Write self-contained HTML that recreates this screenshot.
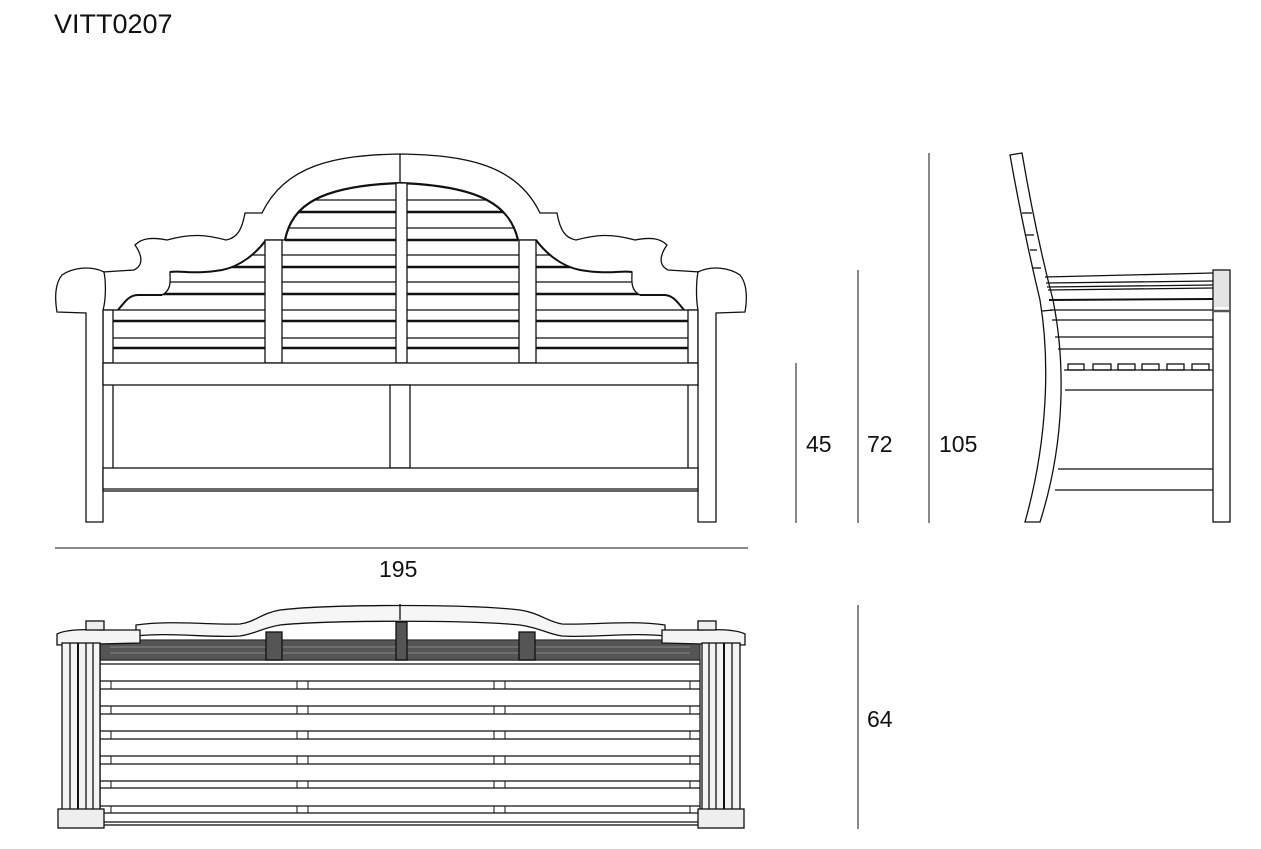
<!DOCTYPE html>
<html><head><meta charset="utf-8"><style>
html,body{margin:0;padding:0;background:#fff;}
svg{display:block;}
text{font-family:"Liberation Sans",sans-serif;fill:#111;}
</style></head><body>
<svg width="1261" height="849" viewBox="0 0 1261 849" xmlns="http://www.w3.org/2000/svg">
<text x="54" y="33" font-size="27">VITT0207</text>

<g fill="none" stroke="#111" stroke-width="1.3">
<g id="slats">
<line x1="113" y1="310" x2="688" y2="310"/>
<line x1="113" y1="321" x2="688" y2="321" stroke-width="2.4"/>
<line x1="113" y1="338" x2="688" y2="338"/>
<line x1="113" y1="348" x2="688" y2="348" stroke-width="2.4"/>
<line x1="120" y1="282" x2="680" y2="282"/>
<line x1="120" y1="294" x2="680" y2="294" stroke-width="2.4"/>
<line x1="145" y1="255" x2="656" y2="255"/>
<line x1="145" y1="267" x2="656" y2="267" stroke-width="2.4"/>
<line x1="285" y1="228" x2="518" y2="228"/>
<line x1="285" y1="240" x2="518" y2="240" stroke-width="2.4"/>
<line x1="293" y1="200" x2="510" y2="200"/>
<line x1="290" y1="212" x2="512" y2="212" stroke-width="2.4"/>
</g>
<path d="M262,213 C285,165 335,155 400,154 C467,155 517,165 540,213 L557,213 C560,230 565,238 576,240 C595,235 610,233 635,240 C650,237 660,238 667,245 C660,255 658,265 668,270 L700,272 L700,310 L684,310 C676,300 672,295 664,295 L640,295 C630,290 632,280 632,272 C620,270 610,275 580,270 C560,266 545,252 536,240 L518,240 C510,205 480,186 400,183 C320,186 292,205 285,240 L266,240 C257,252 242,266 222,270 C192,275 182,270 170,272 C170,280 172,290 162,295 L138,295 C130,295 126,300 118,310 L103,310 L103,272 L134,270 C144,265 142,255 135,245 C142,238 152,237 167,240 C192,233 207,235 226,240 C237,238 242,230 245,213 Z" fill="#fff"/>
<path d="M285,240 C292,205 320,186 400,183 C480,186 510,205 518,240" stroke-width="2.2"/>
<path d="M266,240 C257,252 242,266 222,270 C192,275 182,270 170,272 M162,295 L138,295 C130,295 126,300 118,310" stroke-width="2"/>
<path d="M536,240 C545,252 560,266 580,270 C610,275 620,270 632,272 M640,295 L664,295 C672,295 676,300 684,310" stroke-width="2"/>
<line x1="400" y1="154" x2="400" y2="183"/>
<rect x="265" y="240" width="17" height="123" fill="#fff"/>
<rect x="396" y="183" width="11" height="180" fill="#fff"/>
<rect x="519" y="240" width="17" height="123" fill="#fff"/>
<rect x="103" y="310" width="10" height="53" fill="#fff"/>
<rect x="688" y="310" width="10" height="53" fill="#fff"/>
<path d="M104,272 C90,265 72,268 62,275 C54,285 55,300 57,312 L86,313 L86,522 L103,522 L103,310 C106,300 106,282 104,272 Z" fill="#fff"/>
<path d="M698,272 C712,265 730,268 740,275 C748,285 747,300 745,312 L716,313 L716,522 L698,522 L698,310 C696,300 696,282 698,272 Z" fill="#fff"/>
<rect x="103" y="363" width="595" height="22" fill="#fff"/>
<line x1="113" y1="385" x2="113" y2="468"/>
<line x1="688" y1="385" x2="688" y2="468"/>
<rect x="390" y="385" width="20" height="83" fill="#fff"/>
<rect x="103" y="468" width="595" height="23" fill="#fff"/>
<line x1="103" y1="489" x2="698" y2="489"/>

<path d="M1010,155 L1022,153 C1030,200 1040,250 1053,300 C1065,360 1066,440 1040,522 L1025,522 C1048,440 1050,360 1040,300 C1028,250 1018,200 1010,155 Z" fill="#fff"/>
<line x1="1022" y1="213" x2="1032" y2="213"/>
<line x1="1025" y1="235" x2="1034" y2="235"/>
<line x1="1030" y1="250" x2="1037" y2="250"/>
<line x1="1033" y1="268" x2="1041" y2="268"/>
<line x1="1042" y1="311" x2="1053" y2="310"/>
<rect x="1213" y="270" width="17" height="252" fill="#fff"/>
<rect x="1214" y="271" width="15" height="36" fill="#e4e4e4" stroke="none"/>
<line x1="1213" y1="311" x2="1230" y2="311" stroke-width="2.5" stroke="#555"/>
<line x1="1045" y1="277" x2="1213" y2="273"/>
<line x1="1046" y1="283" x2="1213" y2="281"/>
<line x1="1047" y1="287" x2="1213" y2="285"/>
<line x1="1048" y1="290" x2="1213" y2="288"/>
<line x1="1049" y1="300" x2="1213" y2="299" stroke-width="2"/>
<line x1="1050" y1="310" x2="1213" y2="310"/>
<line x1="1052" y1="320" x2="1213" y2="320"/>
<line x1="1055" y1="337" x2="1213" y2="337"/>
<line x1="1058" y1="349" x2="1213" y2="349"/>
<g fill="#fff">
<rect x="1068" y="364" width="16" height="6"/><rect x="1093" y="364" width="18" height="6"/>
<rect x="1118" y="364" width="17" height="6"/><rect x="1142" y="364" width="17" height="6"/>
<rect x="1167" y="364" width="17" height="6"/><rect x="1192" y="364" width="17" height="6"/>
</g>
<line x1="1064" y1="370" x2="1213" y2="370"/>
<line x1="1065" y1="390" x2="1213" y2="390"/>
<line x1="1058" y1="469" x2="1213" y2="469"/>
<line x1="1055" y1="490" x2="1213" y2="490"/>

<rect x="100" y="660" width="600" height="165" fill="#fff"/>
<g>
<line x1="100" y1="681" x2="700" y2="681"/><line x1="100" y1="689" x2="700" y2="689"/>
<line x1="100" y1="706" x2="700" y2="706"/><line x1="100" y1="714" x2="700" y2="714"/>
<line x1="100" y1="731" x2="700" y2="731"/><line x1="100" y1="739" x2="700" y2="739"/>
<line x1="100" y1="756" x2="700" y2="756"/><line x1="100" y1="764" x2="700" y2="764"/>
<line x1="100" y1="781" x2="700" y2="781"/><line x1="100" y1="788" x2="700" y2="788"/>
<line x1="100" y1="806" x2="700" y2="806"/><line x1="100" y1="813" x2="700" y2="813"/>
<line x1="100" y1="664" x2="700" y2="664"/>
</g>
<g stroke-width="1">
<path d="M111,681v8M111,706v8M111,731v8M111,756v8M111,781v7M111,806v7"/>
<path d="M297,681v8M297,706v8M297,731v8M297,756v8M297,781v7M297,806v7"/>
<path d="M308,681v8M308,706v8M308,731v8M308,756v8M308,781v7M308,806v7"/>
<path d="M494,681v8M494,706v8M494,731v8M494,756v8M494,781v7M494,806v7"/>
<path d="M505,681v8M505,706v8M505,731v8M505,756v8M505,781v7M505,806v7"/>
<path d="M690,681v8M690,706v8M690,731v8M690,756v8M690,781v7M690,806v7"/>
</g>
<path d="M100,640 L700,640 L700,660 L100,660 Z" fill="#555" stroke="#333"/>
<g stroke="#888" stroke-width="1">
<line x1="110" y1="647" x2="690" y2="647"/><line x1="110" y1="653" x2="690" y2="653"/>
</g>
<rect x="266" y="632" width="16" height="28" fill="#555"/>
<rect x="396" y="622" width="11" height="38" fill="#555"/>
<rect x="519" y="632" width="16" height="28" fill="#555"/>
<path d="M136,625 C170,620 210,625 240,624 C255,622 262,613 280,610 C330,604 470,604 520,610 C540,613 548,622 562,624 C592,625 632,620 665,625 L665,636 C632,632 592,638 562,636 C548,634 540,628 520,625 C470,620 330,620 280,625 C262,628 255,634 240,636 C210,638 170,632 136,636 Z" fill="#f6f6f6"/>
<line x1="400" y1="604" x2="400" y2="620"/>
<path d="M57,634 C65,630 80,629 100,630 L140,630 L140,643 L57,645 Z" fill="#f4f4f4"/>
<path d="M745,634 C737,630 722,629 702,630 L662,630 L662,643 L745,645 Z" fill="#f4f4f4"/>
<rect x="86" y="621" width="18" height="9" fill="#eee"/>
<rect x="698" y="621" width="18" height="9" fill="#eee"/>
<rect x="62" y="643" width="38" height="167" fill="#f4f4f4"/>
<line x1="70" y1="643" x2="70" y2="810"/><line x1="78" y1="643" x2="78" y2="810" stroke-width="2"/><line x1="86" y1="643" x2="86" y2="810"/><line x1="93" y1="643" x2="93" y2="810"/>
<rect x="702" y="643" width="38" height="167" fill="#f4f4f4"/>
<line x1="709" y1="643" x2="709" y2="810"/><line x1="716" y1="643" x2="716" y2="810"/><line x1="724" y1="643" x2="724" y2="810" stroke-width="2"/><line x1="732" y1="643" x2="732" y2="810"/>
<rect x="58" y="809" width="46" height="19" fill="#eee"/>
<rect x="698" y="809" width="46" height="19" fill="#eee"/>
<line x1="104" y1="822" x2="698" y2="822"/>

<line x1="55" y1="548" x2="748" y2="548" stroke-width="1"/>
<line x1="796" y1="363" x2="796" y2="523" stroke-width="1"/>
<line x1="858" y1="270" x2="858" y2="523" stroke-width="1"/>
<line x1="929" y1="153" x2="929" y2="523" stroke-width="1"/>
<line x1="858" y1="605" x2="858" y2="829" stroke-width="1"/>
</g>
<text x="379" y="577" font-size="23">195</text>
<text x="806" y="452" font-size="23">45</text>
<text x="867" y="452" font-size="23">72</text>
<text x="939" y="452" font-size="23">105</text>
<text x="867" y="727" font-size="23">64</text>
</svg>
</body></html>
